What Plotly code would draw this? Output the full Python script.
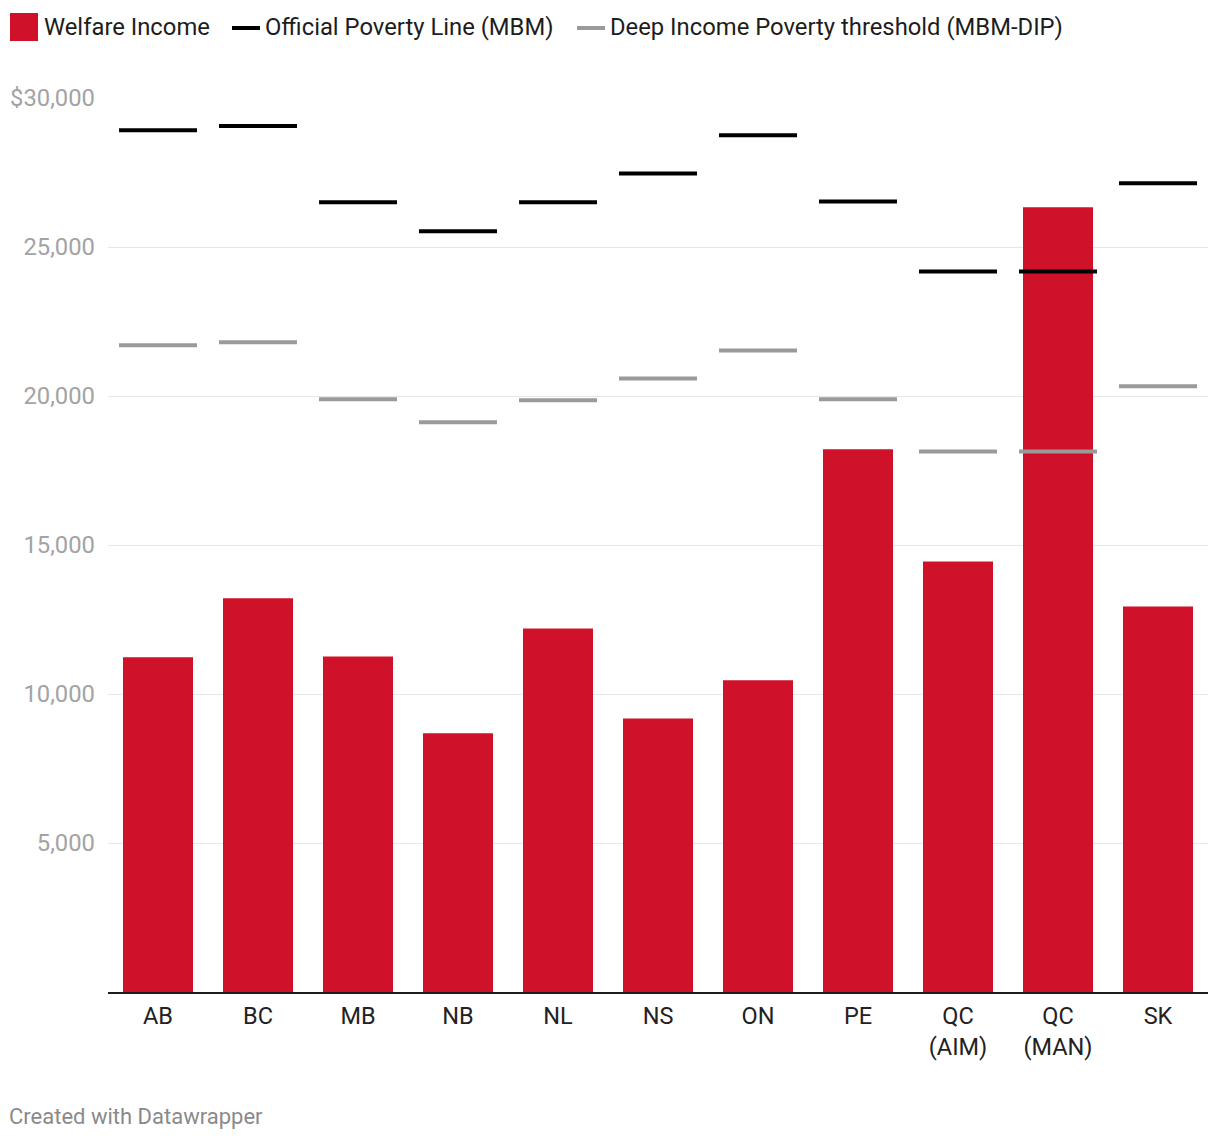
import plotly.graph_objects as go

# ---- data ----
categories = ["AB", "BC", "MB", "NB", "NL", "NS", "ON", "PE", "QC (AIM)", "QC (MAN)", "SK"]
welfare_income = [11230, 13210, 11260, 8680, 12200, 9180, 10460, 18210, 14450, 26330, 12940]
official_poverty_line = [28920, 29060, 26500, 25530, 26500, 27470, 28750, 26530, 24180, 24180, 27140]
deep_poverty_threshold = [21700, 21800, 19890, 19120, 19860, 20590, 21530, 19890, 18140, 18140, 20330]

y_tickvals = [5000, 10000, 15000, 20000, 25000, 30000]
y_ticktext = ["5,000", "10,000", "15,000", "20,000", "25,000", "$30,000"]

legend_labels = ["Welfare Income", "Official Poverty Line (MBM)", "Deep Income Poverty threshold (MBM-DIP)"]

# ---- style ----
W, H = 1220, 1142
ML, MR, MT, MB = 108, 12, 98, 150
PW, PH = W - ML - MR, H - MT - MB
RED = "#cf1229"
BLACK = "#000000"
GREY = "#9a9a9a"
FONT = "Roboto"
FS = 23.8

def px_x(px):
    return (px - ML) / PW

def px_y(py):
    return (H - MB - py) / PH

fig = go.Figure()

fig.add_trace(go.Bar(
    x=categories, y=welfare_income, width=0.7,
    marker=dict(color=RED, line=dict(width=0)),
    name=legend_labels[0], showlegend=False,
))

line_len = 78
for vals, col, name in [(official_poverty_line, BLACK, legend_labels[1]),
                        (deep_poverty_threshold, GREY, legend_labels[2])]:
    fig.add_trace(go.Scatter(
        x=categories, y=vals, mode="markers",
        marker=dict(symbol="line-ew", size=line_len / 1.4,
                    line=dict(color=col, width=4)),
        name=name, showlegend=False, cliponaxis=False,
    ))

# ---- custom legend ----
shapes = []
annotations = []
shapes.append(dict(type="rect", xref="paper", yref="paper",
                   x0=px_x(10), x1=px_x(38), y0=px_y(41), y1=px_y(13),
                   fillcolor=RED, line=dict(width=0)))
annotations.append(dict(xref="paper", yref="paper", x=px_x(42), y=px_y(27),
                        xanchor="left", yanchor="middle", showarrow=False,
                        text=legend_labels[0], font=dict(family=FONT, size=FS, color="#1d1d1d")))
shapes.append(dict(type="line", xref="paper", yref="paper",
                   x0=px_x(232), x1=px_x(260), y0=px_y(28), y1=px_y(28),
                   line=dict(color=BLACK, width=4)))
annotations.append(dict(xref="paper", yref="paper", x=px_x(263), y=px_y(27),
                        xanchor="left", yanchor="middle", showarrow=False,
                        text=legend_labels[1], font=dict(family=FONT, size=FS, color="#1d1d1d")))
shapes.append(dict(type="line", xref="paper", yref="paper",
                   x0=px_x(577), x1=px_x(605), y0=px_y(28), y1=px_y(28),
                   line=dict(color=GREY, width=4)))
annotations.append(dict(xref="paper", yref="paper", x=px_x(608), y=px_y(27),
                        xanchor="left", yanchor="middle", showarrow=False,
                        text=legend_labels[2], font=dict(family=FONT, size=FS, color="#1d1d1d")))
annotations.append(dict(xref="paper", yref="paper", x=px_x(7), y=px_y(1116),
                        xanchor="left", yanchor="middle", showarrow=False,
                        text="Created with Datawrapper", font=dict(family=FONT, size=22, color="#8a8a8a")))

fig.update_layout(
    width=W, height=H,
    margin=dict(l=ML, r=MR, t=MT, b=MB, pad=0, autoexpand=False),
    paper_bgcolor="white", plot_bgcolor="white",
    font=dict(family=FONT, size=FS, color="#333333"),
    showlegend=False,
    bargap=0.3,
    shapes=shapes,
    annotations=annotations,
    xaxis=dict(
        type="category",
        tickvals=categories,
        ticktext=[c.replace(" ", "<br>") for c in categories],
        tickfont=dict(family=FONT, size=23.5, color="#222222"),
        showgrid=False, zeroline=False,
        showline=True, linecolor="#1d1d1d", linewidth=2,
        ticks="", ticklabelstandoff=2,
        range=[-0.5, len(categories) - 0.5],
        automargin=False,
    ),
    yaxis=dict(
        range=[0, 30000],
        tickvals=y_tickvals, ticktext=y_ticktext,
        tickfont=dict(family=FONT, size=FS, color="#a3a3a3"),
        showgrid=True, gridcolor="#e6e6e6", gridwidth=1,
        zeroline=False, showline=False, ticks="",
        ticklabelstandoff=12,
        automargin=False,
    ),
)

fig.write_html("out.html")
